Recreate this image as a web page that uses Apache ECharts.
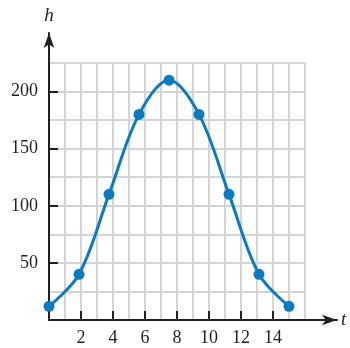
<!DOCTYPE html>
<html>
<head>
<meta charset="utf-8">
<script src="https://cdn.jsdelivr.net/npm/echarts@6/dist/echarts.min.js"></script>
<style>
  html, body { margin: 0; padding: 0; background: #fff; }
  #chart { width: 350px; height: 348px; }
</style>
</head>
<body>
<div id="chart"></div>
<script>
  // ----- Data -----
  const tValues = [0, 1.875, 3.75, 5.625, 7.5, 9.375, 11.25, 13.125, 15];
  const hValues = [12, 40, 110, 180, 210, 180, 110, 40, 12];
  const xTickLabels = [2, 4, 6, 8, 10, 12, 14];
  const yTickLabels = [50, 100, 150, 200];

  const ink = '#231f20';
  const blue = '#0a7bc2';
  const gridColor = '#d4d4d4';
  const font = '"Liberation Serif", "DejaVu Serif", serif';

  const points = tValues.map((t, i) => [t, hValues[i]]);

  // hidden axis that only draws the light grid
  function gridAxis(min, max, interval, position) {
    return {
      gridIndex: 0, type: 'value', min, max, interval, position,
      axisLine: { show: false }, axisTick: { show: false }, axisLabel: { show: false },
      splitLine: { show: true, lineStyle: { color: gridColor, width: 2 } }
    };
  }

  // axis that only draws ticks + labels at chosen values
  function labelAxis(min, max, values, margin, position) {
    return {
      gridIndex: 0, type: 'value', min, max, position, offset: 0,
      axisLine: { show: false },
      axisTick: {
        show: true, inside: true, length: 9, customValues: values,
        lineStyle: { color: ink, width: 2 }
      },
      axisLabel: { customValues: values, color: ink, fontFamily: font, fontSize: 18, margin },
      splitLine: { show: false }
    };
  }

  // axis line with arrow, no ticks
  function arrowAxis(name, gap, position) {
    return {
      gridIndex: 1, type: 'value', min: 0, max: 1, position,
      axisLine: {
        show: true, symbol: ['none', 'arrow'], symbolSize: [8, 15],
        lineStyle: { color: ink, width: 2 }
      },
      axisTick: { show: false }, axisLabel: { show: false }, splitLine: { show: false },
      name, nameLocation: 'end', nameGap: gap,
      nameTextStyle: { color: ink, fontFamily: font, fontStyle: 'italic', fontSize: 19 }
    };
  }

  const chart = echarts.init(document.getElementById('chart'), null, { renderer: 'canvas' });
  chart.setOption({
    backgroundColor: '#ffffff',
    animation: false,
    grid: [
      { left: 49, right: 45, top: 63, bottom: 28 },
      { left: 49, right: 13, top: 33, bottom: 28 }
    ],
    xAxis: [
      gridAxis(0, 16, 1, 'bottom'),
      arrowAxis('t', 4, 'bottom'),
      labelAxis(0, 16, xTickLabels, 9, 'bottom')
    ],
    yAxis: [
      gridAxis(0, 225, 25, 'left'),
      arrowAxis('h', 8, 'left'),
      labelAxis(0, 225, yTickLabels, 11, 'left')
    ],
    series: [
      {
        type: 'line',
        xAxisIndex: 0,
        yAxisIndex: 0,
        data: points,
        smooth: 0.35,
        symbol: 'circle',
        symbolSize: 11,
        lineStyle: { color: blue, width: 3 },
        itemStyle: { color: blue },
        clip: false,
        z: 5
      }
    ]
  });
</script>
</body>
</html>
